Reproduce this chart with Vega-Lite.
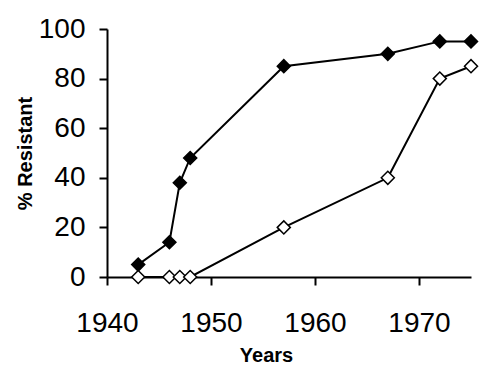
{
  "$schema": "https://vega.github.io/schema/vega-lite/v6.json",
  "width": 364,
  "height": 248,
  "autosize": "none",
  "padding": {"left": 107, "top": 29, "right": 29, "bottom": 104},
  "background": "white",
  "config": {"view": {"stroke": null}, "font": "Liberation Sans"},
  "data": {"values": [
    {"year": 1943, "pct": 5, "series": "A"},
    {"year": 1946, "pct": 14, "series": "A"},
    {"year": 1947, "pct": 38, "series": "A"},
    {"year": 1948, "pct": 48, "series": "A"},
    {"year": 1957, "pct": 85, "series": "A"},
    {"year": 1967, "pct": 90, "series": "A"},
    {"year": 1972, "pct": 95, "series": "A"},
    {"year": 1975, "pct": 95, "series": "A"},
    {"year": 1943, "pct": 0, "series": "B"},
    {"year": 1946, "pct": 0, "series": "B"},
    {"year": 1947, "pct": 0, "series": "B"},
    {"year": 1948, "pct": 0, "series": "B"},
    {"year": 1957, "pct": 20, "series": "B"},
    {"year": 1967, "pct": 40, "series": "B"},
    {"year": 1972, "pct": 80, "series": "B"},
    {"year": 1975, "pct": 85, "series": "B"}
  ]},
  "encoding": {
    "x": {"field": "year", "type": "quantitative", "scale": {"domain": [1940, 1975], "nice": false, "zero": false},
      "axis": {"values": [1940, 1950, 1960, 1970], "format": "d", "grid": false, "labelFlush": false, "labelOverlap": false, "domainColor": "black", "domainWidth": 2, "tickColor": "black", "tickWidth": 2, "tickSize": 8, "labelFontSize": 28, "labelColor": "black", "labelPadding": 24, "title": "Years", "titleFontSize": 20, "titleFontWeight": "bold", "titleColor": "black", "titleX": 159, "titleY": 78, "titleBaseline": "middle"}},
    "y": {"field": "pct", "type": "quantitative", "scale": {"domain": [0, 100], "nice": false},
      "axis": {"values": [0, 20, 40, 60, 80, 100], "grid": false, "labelFlush": false, "labelOverlap": false, "domainColor": "black", "domainWidth": 2, "tickColor": "black", "tickWidth": 2, "tickSize": 8, "labelFontSize": 28, "labelColor": "black", "labelPadding": 14, "title": "% Resistant", "titleFontSize": 20, "titleFontWeight": "bold", "titleColor": "black", "titleX": -82, "titleY": 124, "titleBaseline": "middle"}}
  },
  "layer": [
    {"mark": {"type": "line", "color": "black", "strokeWidth": 2}, "encoding": {"detail": {"field": "series"}}},
    {"mark": {"type": "point", "shape": "diamond", "size": 170, "stroke": "black", "strokeWidth": 1.5, "opacity": 1, "filled": true},
      "encoding": {"fill": {"field": "series", "type": "nominal", "scale": {"domain": ["A", "B"], "range": ["black", "white"]}, "legend": null}}}
  ]
}
